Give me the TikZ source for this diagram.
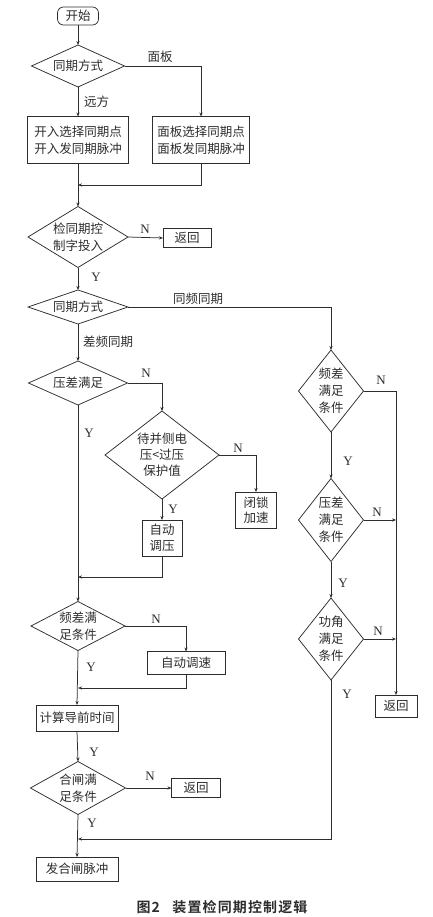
\documentclass[tikz,border=0pt]{standalone}
\usepackage{fontspec}
\setmainfont{Liberation Serif}
\newfontfamily\cjk{Noto Sans CJK SC}[BoldFont={Noto Sans CJK SC Bold}]
\newfontfamily\cjkcap{Noto Sans CJK SC Bold}[LetterSpace=8]
\usetikzlibrary{shapes.geometric,arrows.meta}
\definecolor{ink}{RGB}{45,45,45}
\begin{document}
\begin{tikzpicture}[x=1pt,y=-1pt,
  every node/.style={inner sep=0pt, outer sep=0pt},
  fc/.style={font=\cjk\fontsize{12.5}{17}\selectfont, text=ink, align=center},
  dia/.style={draw=ink, line width=0.75pt, diamond},
  box/.style={draw=ink, line width=0.75pt, rectangle, fc},
  yn/.style={font=\fontsize{13}{13}\selectfont, text=ink},
  lab/.style={fc},
  ln/.style={draw=ink, line width=0.75pt},
  arr/.style={ln, -{Stealth[length=4pt,width=3.2pt]}}]
\useasboundingbox (0,0) rectangle (432,917);

% nodes
\node[box, rounded corners=6pt, minimum width=41, minimum height=18] (start) at (78,16) {开始};
\node[dia, minimum width=93, minimum height=42, label={[fc]center:同期方式}] (d1) at (78,66) {};
\node[box, minimum width=101, minimum height=47] (b1) at (78,140) {开入选择同期点\\开入发同期脉冲};
\node[box, minimum width=97, minimum height=47] (b2) at (201,140) {面板选择同期点\\面板发同期脉冲};
\coordinate (m1) at (78,185);
\node[dia, minimum width=100, minimum height=61, label={[fc]center:检同期控\\制字投入}] (d2) at (78,237) {};
\node[box, minimum width=48, minimum height=19] (r1) at (187,238) {返回};
\node[dia, minimum width=100, minimum height=34, label={[fc]center:同期方式}] (d3) at (78,307) {};
\node[dia, minimum width=99, minimum height=44, label={[fc]center:压差满足}] (d4) at (78,383) {};
\node[dia, minimum width=114, minimum height=88, label={[fc,font=\cjk\fontsize{12.5}{16}\selectfont]center:待并侧电\\压<过压\\保护值}] (d5) at (162,455) {};
\node[box, minimum width=41, minimum height=36, font=\cjk\fontsize{12.5}{15.5}\selectfont] (b3) at (256,510) {闭锁\\加速};
\node[box, minimum width=40, minimum height=36, font=\cjk\fontsize{12.5}{16}\selectfont] (b4) at (162,538) {自动\\调压};
\coordinate (m2) at (78,577);
\node[dia, minimum width=94, minimum height=49, label={[fc]center:频差满\\足条件}] (d7) at (78,626) {};
\node[box, minimum width=78, minimum height=23] (b5) at (186,663) {自动调速};
\coordinate (m3) at (78,688);
\node[box, minimum width=82, minimum height=26] (b6) at (77,718) {计算导前时间};
\node[dia, minimum width=95, minimum height=53, label={[fc]center:合闸满\\足条件}] (d8) at (78,788) {};
\node[box, minimum width=49, minimum height=19] (r2) at (196,788) {返回};
\coordinate (m4) at (78,839);
\node[box, minimum width=82, minimum height=24] (b7) at (77,869) {发合闸脉冲};

\node[dia, minimum width=65, minimum height=82, label={[fc]center:频差\\满足\\条件}] (d6) at (331,391) {};
\node[dia, minimum width=65, minimum height=83, label={[fc]center:压差\\满足\\条件}] (d9) at (331,520) {};
\node[dia, minimum width=65, minimum height=82, label={[fc]center:功角\\满足\\条件}] (d10) at (331,639) {};
\node[box, minimum width=42, minimum height=22] (r3) at (396,706) {返回};
\coordinate (j1) at (396,520);
\coordinate (j2) at (396,639);

% connectors
\draw[arr] (start) -- (d1.north);
\draw[arr] (d1.south) -- node[lab, pos=0.5, right=6pt] (l1) {远方} (b1.north);
\draw[arr] (d1.east) -| (b2.north);
\node[lab] (l2) at (160,57) {面板};
\draw[arr] (b1.south) -- (d2.north);
\draw[arr] (b2.south) |- (m1);
\draw[arr] (d2.east) -- (r1.west);
\node[yn] (n1) at (145,229) {N};
\draw[arr] (d2.south) -- (d3.north);
\node[yn] (y1) at (96,277) {Y};
\draw[arr] (d3.east) -| (d6.north);
\node[lab] (l3) at (198,299) {同频同期};
\draw[arr] (d3.south) -- (d4.north);
\node[lab] (l4) at (108,342) {差频同期};
\draw[arr] (d4.east) -| (d5.north);
\node[yn] (n2) at (146,373) {N};
\draw[arr] (d4.south) -- (d7.north);
\node[yn] (y2) at (89,433) {Y};
\draw[arr] (d5.east) -| (b3.north);
\node[yn] (n3) at (238,448) {N};
\draw[arr] (d5.south) -- (b4.north);
\node[yn] (y3) at (173,509) {Y};
\draw[arr] (b4.south) |- (m2);
\draw[arr] (d7.east) -| (b5.north);
\node[yn] (n4) at (156,619) {N};
\draw[arr] (d7.south) -- (b6.north);
\node[yn] (y4) at (91,667) {Y};
\draw[arr] (b5.south) |- (m3);
\draw[arr] (b6.south) -- (d8.north);
\node[yn] (y5) at (94,752) {Y};
\draw[arr] (d8.east) -- (r2.west);
\node[yn] (n5) at (150,776) {N};
\draw[arr] (d8.south) -- (b7.north);
\node[yn] (y6) at (92,823) {Y};

\draw[arr] (d6.east) -| (r3.north);
\node[yn] (n6) at (381,380) {N};
\draw[arr] (d6.south) -- (d9.north);
\node[yn] (y7) at (348,461) {Y};
\draw[arr] (d9.east) -- (j1);
\node[yn] (n7) at (377,512) {N};
\draw[arr] (d9.south) -- (d10.north);
\node[yn] (y8) at (343,583) {Y};
\draw[arr] (d10.east) -- (j2);
\node[yn] (n8) at (378,631) {N};
\draw[arr] (d10.south) |- (m4);
\node[yn] (y9) at (347,694) {Y};

\node[font=\cjkcap\fontsize{14}{15}\selectfont, text=ink] (cap) at (222,907) {图2\hspace{0.9em}装置检同期控制逻辑};
\end{tikzpicture}
\end{document}
